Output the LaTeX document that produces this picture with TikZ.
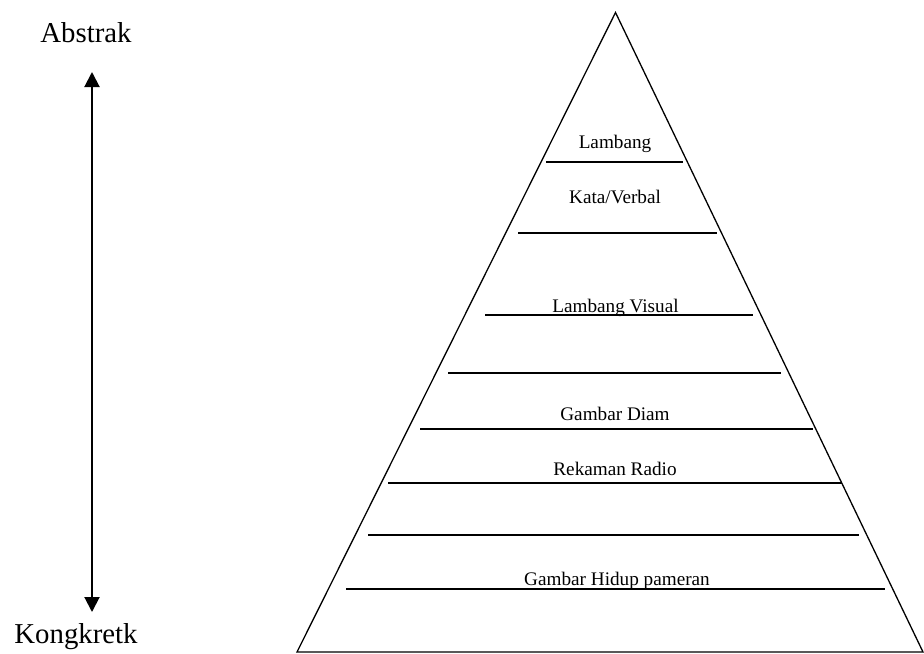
\documentclass[tikz,border=0pt]{standalone}
\usepackage{fontspec}
\setmainfont{Liberation Serif}
\usetikzlibrary{arrows.meta}

\begin{document}
\begin{tikzpicture}[
  x=0.5pt, y=-0.5pt,
  side/.style={font=\fontsize{14.4}{17}\selectfont, inner sep=0pt, anchor=base},
  tlabel/.style={font=\fontsize{9.6}{11.5}\selectfont, inner sep=0pt, anchor=base},
  tri/.style={line width=0.65pt, draw=black, line join=miter},
  lvl/.style={line width=1pt, draw=black},
  arr/.style={line width=1pt, {Triangle[length=7.5pt,width=7.5pt]}-{Triangle[length=7.5pt,width=7.5pt]}}
]
  % Kotak pembatas sesuai ukuran gambar asli
  \useasboundingbox (0,0) rectangle (924,653);

  % Panah abstrak - kongkret
  \node[side] (abs) at (86,42) {Abstrak};
  \node[side] (kon) at (76,643) {Kongkretk};
  \coordinate (atop) at (92,72);
  \coordinate (abot) at (92,612);
  \draw[arr] (atop) -- (abot);

  % Segitiga
  \coordinate (apex) at (615.5,12.5);
  \coordinate (bl) at (297,652);
  \coordinate (br) at (923,652);
  \draw[tri] (apex) -- (br) -- (bl) -- cycle;

  % Garis batas tiap tingkat
  \draw[lvl] (546,162) -- (683,162);
  \draw[lvl] (518,233) -- (717,233);
  \draw[lvl] (485,315) -- (753,315);
  \draw[lvl] (448,372.5) -- (781,372.5);
  \draw[lvl] (420,428.5) -- (813,428.5);
  \draw[lvl] (388,483) -- (842,483);
  \draw[lvl] (368,534.5) -- (859,534.5);
  \draw[lvl] (346,589) -- (885,589);

  % Label tingkat
  \node[tlabel] (l1) at (615,148) {Lambang};
  \node[tlabel] (l2) at (615,203) {Kata/Verbal};
  \node[tlabel] (l3) at (615.5,312) {Lambang Visual};
  \node[tlabel] (l5) at (615,420) {Gambar Diam};
  \node[tlabel] (l6) at (615,475) {Rekaman Radio};
  \node[tlabel] (l8) at (617,585) {Gambar Hidup pameran};
\end{tikzpicture}
\end{document}
